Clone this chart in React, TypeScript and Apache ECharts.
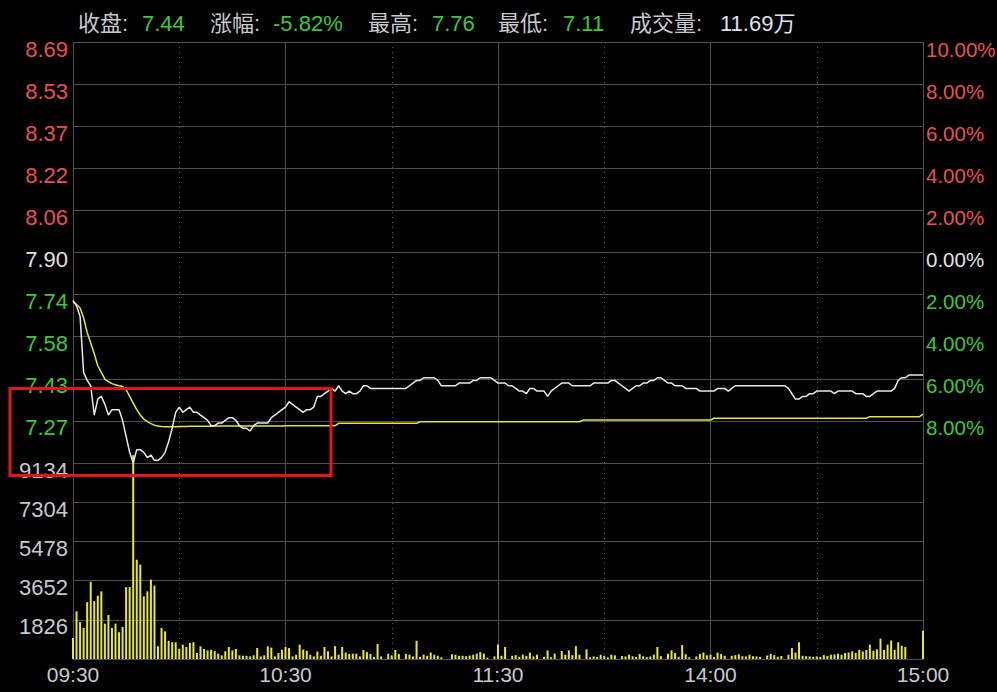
import React, { useEffect, useRef } from 'react';
import * as echarts from 'echarts';

// ---------- data ----------
const PRE_CLOSE = 7.9;
const PRICE_MIN = 7.11;
const PRICE_MAX = 8.69;
const PRICE_STEP = 0.158;
const PCT_MIN = -10;
const PCT_MAX = 10;
const PCT_STEP = 2;
const VOL_MAX = 9134;
const VOL_LABELS = ['', '1826', '3652', '5478', '7304', '9134'];
const X_LABELS = ['09:30', '10:30', '11:30', '14:00', '15:00'];
const SOLID_LINES = ['09:30', '10:30', '11:30', '14:00', '15:00'];
const DOTTED_LINES = ['10:00', '11:00', '13:30', '14:30'];

const HEADER_LABELS = ['收盘:', '涨幅:', '最高:', '最低:', '成交量:'];
const HEADER_VALUES = ['7.44', '-5.82%', '7.76', '7.11', '11.69万'];

const PRICE = [
  7.72, 7.70, 7.66, 7.45, 7.42, 7.40, 7.29, 7.35, 7.36, 7.33,
  7.29, 7.31, 7.31, 7.31, 7.27, 7.21, 7.15, 7.11, 7.16, 7.16,
  7.15, 7.13, 7.14, 7.12, 7.12, 7.13, 7.15, 7.19, 7.24, 7.30,
  7.32, 7.30, 7.31, 7.32, 7.30, 7.30, 7.29, 7.28, 7.27, 7.25,
  7.25, 7.26, 7.26, 7.27, 7.28, 7.28, 7.27, 7.25, 7.24, 7.24,
  7.23, 7.25, 7.26, 7.26, 7.26, 7.26, 7.28, 7.29, 7.30, 7.31,
  7.32, 7.34, 7.33, 7.32, 7.31, 7.30, 7.31, 7.31, 7.32, 7.36,
  7.36, 7.37, 7.38, 7.39, 7.38, 7.40, 7.38, 7.37, 7.38, 7.37,
  7.37, 7.38, 7.40, 7.40, 7.39, 7.39, 7.39, 7.39, 7.39, 7.39,
  7.39, 7.39, 7.39, 7.39, 7.39, 7.40, 7.41, 7.42, 7.42, 7.43,
  7.43, 7.43, 7.43, 7.42, 7.40, 7.40, 7.40, 7.40, 7.40, 7.41,
  7.41, 7.41, 7.41, 7.42, 7.42, 7.43, 7.43, 7.43, 7.43, 7.42,
  7.41, 7.41, 7.41, 7.40, 7.40, 7.39, 7.38, 7.38, 7.37, 7.39,
  7.39, 7.38, 7.38, 7.38, 7.36, 7.38, 7.39, 7.40, 7.41, 7.41,
  7.41, 7.40, 7.40, 7.40, 7.40, 7.40, 7.40, 7.41, 7.41, 7.41,
  7.41, 7.41, 7.42, 7.42, 7.41, 7.40, 7.39, 7.38, 7.39, 7.40,
  7.40, 7.41, 7.41, 7.42, 7.42, 7.43, 7.43, 7.42, 7.41, 7.41,
  7.40, 7.40, 7.40, 7.39, 7.39, 7.39, 7.39, 7.38, 7.38, 7.38,
  7.38, 7.38, 7.39, 7.39, 7.39, 7.38, 7.39, 7.40, 7.40, 7.40,
  7.40, 7.40, 7.40, 7.40, 7.40, 7.40, 7.40, 7.40, 7.40, 7.40,
  7.40, 7.40, 7.39, 7.37, 7.35, 7.35, 7.36, 7.36, 7.37, 7.37,
  7.38, 7.38, 7.38, 7.38, 7.38, 7.37, 7.38, 7.38, 7.38, 7.38,
  7.38, 7.37, 7.37, 7.37, 7.36, 7.36, 7.37, 7.38, 7.38, 7.38,
  7.38, 7.38, 7.39, 7.42, 7.43, 7.43, 7.44, 7.44, 7.44, 7.44, 7.44,
];

const AVG_PRICE = [
  7.715, 7.705, 7.692, 7.655, 7.600, 7.560, 7.520, 7.475, 7.450, 7.425,
  7.415, 7.408, 7.404, 7.400, 7.397, 7.385, 7.360, 7.335, 7.310, 7.290,
  7.275, 7.265, 7.258, 7.252, 7.249, 7.247, 7.246, 7.246, 7.246, 7.246,
  7.247, 7.247, 7.247, 7.248, 7.248, 7.248, 7.248, 7.248, 7.248, 7.248,
  7.249, 7.249, 7.249, 7.249, 7.249, 7.249, 7.249, 7.249, 7.249, 7.249,
  7.249, 7.249, 7.249, 7.249, 7.249, 7.249, 7.249, 7.249, 7.249, 7.249,
  7.250, 7.250, 7.250, 7.250, 7.250, 7.250, 7.250, 7.250, 7.250, 7.250,
  7.250, 7.250, 7.250, 7.250, 7.250, 7.259, 7.259, 7.259, 7.259, 7.259,
  7.259, 7.259, 7.259, 7.259, 7.259, 7.259, 7.259, 7.259, 7.259, 7.259,
  7.259, 7.259, 7.259, 7.259, 7.259, 7.259, 7.259, 7.259, 7.265, 7.265,
  7.265, 7.265, 7.265, 7.265, 7.265, 7.265, 7.265, 7.265, 7.265, 7.265,
  7.265, 7.265, 7.265, 7.265, 7.265, 7.265, 7.265, 7.265, 7.265, 7.265,
  7.265, 7.265, 7.265, 7.265, 7.265, 7.265, 7.265, 7.265, 7.265, 7.265,
  7.265, 7.265, 7.265, 7.265, 7.265, 7.265, 7.265, 7.265, 7.265, 7.265,
  7.265, 7.265, 7.265, 7.265, 7.271, 7.271, 7.271, 7.271, 7.271, 7.271,
  7.271, 7.271, 7.271, 7.271, 7.271, 7.271, 7.271, 7.271, 7.271, 7.271,
  7.271, 7.271, 7.271, 7.271, 7.271, 7.271, 7.271, 7.271, 7.271, 7.271,
  7.271, 7.271, 7.271, 7.271, 7.271, 7.271, 7.271, 7.271, 7.271, 7.271,
  7.271, 7.278, 7.278, 7.278, 7.278, 7.278, 7.278, 7.278, 7.278, 7.278,
  7.278, 7.278, 7.278, 7.278, 7.278, 7.278, 7.278, 7.278, 7.278, 7.278,
  7.278, 7.278, 7.278, 7.278, 7.278, 7.278, 7.278, 7.278, 7.278, 7.278,
  7.278, 7.278, 7.278, 7.278, 7.278, 7.278, 7.278, 7.278, 7.278, 7.278,
  7.278, 7.278, 7.278, 7.278, 7.278, 7.284, 7.284, 7.284, 7.284, 7.284,
  7.284, 7.284, 7.284, 7.284, 7.284, 7.284, 7.284, 7.284, 7.284, 7.284, 7.293,
];

const VOLUME = [
  980, 2220, 1720, 1450, 2650, 3600, 2700, 2950, 3150, 1650,
  2050, 1450, 1650, 1250, 1500, 3350, 3350, 9500, 4630, 4400,
  2920, 3150, 3700, 3420, 590, 1450, 1290, 850, 780, 780,
  470, 670, 560, 750, 780, 280, 590, 470, 400, 430,
  370, 250, 170, 360, 560, 400, 470, 170, 150, 150,
  120, 170, 510, 120, 170, 590, 530, 120, 280, 430,
  560, 510, 120, 200, 670, 440, 380, 200, 120, 350,
  150, 560, 360, 120, 600, 200, 560, 300, 230, 250,
  250, 120, 420, 320, 230, 100, 700, 120, 0, 240,
  170, 420, 230, 0, 240, 200, 120, 850, 100, 200,
  150, 300, 200, 150, 80, 0, 0, 220, 200, 150,
  150, 130, 160, 200, 250, 320, 250, 60, 0, 120,
  680, 150, 560, 0, 150, 180, 100, 200, 150, 300,
  120, 200, 0, 100, 400, 80, 250, 0, 370, 200,
  400, 180, 600, 200, 0, 450, 80, 120, 90, 200,
  150, 80, 200, 170, 0, 140, 120, 200, 130, 100,
  230, 130, 90, 120, 200, 560, 130, 0, 250, 400,
  280, 100, 650, 220, 80, 0, 120, 240, 300, 170,
  200, 90, 300, 230, 150, 0, 150, 180, 220, 130,
  120, 200, 130, 120, 100, 0, 160, 240, 180, 100,
  140, 0, 200, 510, 300, 780, 150, 130, 120, 100,
  120, 90, 180, 150, 200, 210, 250, 200, 280, 300,
  360, 280, 430, 350, 420, 670, 380, 450, 950, 420,
  670, 860, 430, 780, 620, 560, 0, 0, 0, 0, 1320,
];

// trading minutes: 09:30-11:30, 13:01-15:00
function buildTimes(): string[] {
  const fmt = (m: number) =>
    `${String(Math.floor(m / 60)).padStart(2, '0')}:${String(m % 60).padStart(2, '0')}`;
  const out: string[] = [];
  for (let m = 9 * 60 + 30; m <= 11 * 60 + 30; m++) out.push(fmt(m));
  for (let m = 13 * 60 + 1; m <= 15 * 60; m++) out.push(fmt(m));
  return out;
}
const TIMES = buildTimes();

// ---------- styles ----------
const FONT = '"Liberation Sans", Arial, "Noto Sans CJK SC", sans-serif';
const C_RED = '#e85252';
const C_GREEN = '#3cc83c';
const C_WHITE = '#e2e2e2';
const C_GRAY_TXT = '#c9c9cf';
const C_GRID = '#505050';
const C_PRICE = '#e8e8e8';
const C_AVG = '#e6e62c';
const C_VOL = '#e9e92b';

const makeRich = (fs: number) => ({
  r: { color: C_RED, fontSize: fs, fontFamily: FONT },
  w: { color: C_WHITE, fontSize: fs, fontFamily: FONT },
  g: { color: C_GREEN, fontSize: fs, fontFamily: FONT },
  v: { color: C_GRAY_TXT, fontSize: fs, fontFamily: FONT },
});
const richLeft = makeRich(22);
const richRight = makeRich(20.5);

export default function App() {
  const ref = useRef<HTMLDivElement>(null);

  useEffect(() => {
    if (!ref.current) return;
    const chart = echarts.init(ref.current, undefined, { renderer: 'svg' });

    const headerX = [[78, 142], [210, 273], [368, 432], [498, 563], [630, 720]];
    const headerGraphics: any[] = [];
    HEADER_LABELS.forEach((lab, i) => {
      headerGraphics.push({
        type: 'text',
        x: headerX[i][0],
        y: 23,
        style: { text: lab, fill: C_GRAY_TXT, font: `22px ${FONT}`, verticalAlign: 'middle' },
      });
      headerGraphics.push({
        type: 'text',
        x: headerX[i][1],
        y: 23,
        style: {
          text: HEADER_VALUES[i],
          fill: i === 4 ? '#dfe3ef' : C_GREEN,
          font: `22px ${FONT}`,
          verticalAlign: 'middle',
        },
      });
    });

    const hiddenX = {
      type: 'category',
      data: TIMES,
      boundaryGap: false,
      axisLine: { show: false },
      axisTick: { show: false },
      axisLabel: { show: false },
    };

    const option: any = {
      animation: false,
      backgroundColor: '#000000',
      grid: [
        { left: 73, right: 74, top: 42, height: 421, outerBoundsMode: 'none', containLabel: false },
        { left: 73, right: 74, top: 463, height: 196, outerBoundsMode: 'none', containLabel: false },
      ],
      xAxis: [
        {
          ...hiddenX,
          gridIndex: 0,
          splitLine: {
            show: true,
            interval: (_i: number, v: string) => SOLID_LINES.includes(v),
            lineStyle: { color: C_GRID, width: 1 },
          },
        },
        {
          type: 'category',
          gridIndex: 1,
          data: TIMES,
          boundaryGap: false,
          axisLine: { show: true, lineStyle: { color: C_GRID, width: 1 } },
          axisTick: { show: false },
          axisLabel: {
            show: true,
            interval: (_i: number, v: string) => X_LABELS.includes(v),
            color: C_GRAY_TXT,
            fontSize: 21,
            fontFamily: FONT,
            margin: 5,
          },
          splitLine: {
            show: true,
            interval: (_i: number, v: string) => SOLID_LINES.includes(v),
            lineStyle: { color: C_GRID, width: 1 },
          },
        },
        {
          ...hiddenX,
          gridIndex: 0,
          splitLine: {
            show: true,
            interval: (_i: number, v: string) => DOTTED_LINES.includes(v),
            lineStyle: { color: '#5a5a5a', width: 1, type: [1, 4] },
          },
        },
        {
          ...hiddenX,
          gridIndex: 1,
          splitLine: {
            show: true,
            interval: (_i: number, v: string) => DOTTED_LINES.includes(v),
            lineStyle: { color: '#5a5a5a', width: 1, type: [1, 4] },
          },
        },
      ],
      yAxis: [
        {
          type: 'value',
          gridIndex: 0,
          position: 'left',
          min: PRICE_MIN,
          max: PRICE_MAX,
          interval: PRICE_STEP,
          axisLine: { show: false },
          axisTick: { show: false },
          splitLine: { show: true, lineStyle: { color: C_GRID, width: 1 } },
          axisLabel: {
            margin: 5,
            padding: [14, 0, 0, 0],
            formatter: (v: number) => {
              if (Math.abs(v - PRICE_MIN) < 1e-6) return '';
              const s = v.toFixed(2);
              if (Math.abs(v - PRE_CLOSE) < 1e-3) return `{w|${s}}`;
              return v > PRE_CLOSE ? `{r|${s}}` : `{g|${s}}`;
            },
            rich: richLeft,
          },
        },
        {
          type: 'value',
          gridIndex: 0,
          position: 'right',
          min: PCT_MIN,
          max: PCT_MAX,
          interval: PCT_STEP,
          axisLine: { show: false },
          axisTick: { show: false },
          splitLine: { show: false },
          axisLabel: {
            margin: 3,
            padding: [14, 0, 0, 0],
            formatter: (v: number) => {
              if (Math.abs(v - PCT_MIN) < 1e-6) return '';
              const s = Math.abs(v).toFixed(2) + '%';
              if (Math.abs(v) < 1e-6) return `{w|${s}}`;
              return v > 0 ? `{r|${s}}` : `{g|${s}}`;
            },
            rich: richRight,
          },
        },
        {
          type: 'value',
          gridIndex: 1,
          position: 'left',
          min: 0,
          max: VOL_MAX,
          interval: VOL_MAX / 5,
          axisLine: { show: false },
          axisTick: { show: false },
          splitLine: { show: true, lineStyle: { color: C_GRID, width: 1 } },
          axisLabel: {
            margin: 5,
            padding: [14, 0, 0, 0],
            formatter: (v: number) => {
              const k = Math.round(v / (VOL_MAX / 5));
              const s = VOL_LABELS[k] || '';
              return s ? `{v|${s}}` : '';
            },
            rich: richLeft,
          },
        },
      ],
      series: [
        {
          name: 'volume',
          type: 'bar',
          xAxisIndex: 1,
          yAxisIndex: 2,
          data: VOLUME,
          barWidth: 2,
          clip: false,
          itemStyle: { color: C_VOL },
          z: 2,
        },
        {
          name: 'avg',
          type: 'line',
          xAxisIndex: 0,
          yAxisIndex: 0,
          data: AVG_PRICE,
          showSymbol: false,
          lineStyle: { color: C_AVG, width: 1.5 },
          z: 3,
        },
        {
          name: 'price',
          type: 'line',
          xAxisIndex: 0,
          yAxisIndex: 0,
          data: PRICE,
          showSymbol: false,
          lineStyle: { color: C_PRICE, width: 1.5 },
          z: 4,
        },
      ],
      graphic: [
        ...headerGraphics,
        {
          type: 'rect',
          z: 100,
          shape: { x: 10, y: 388.5, width: 321, height: 87 },
          style: { fill: 'none', stroke: '#e3161c', lineWidth: 3 },
        },
      ],
    };

    chart.setOption(option);
    return () => chart.dispose();
  }, []);

  return (
    <div
      ref={ref}
      style={{ position: 'fixed', left: 0, top: 0, width: 997, height: 692, background: '#000' }}
    />
  );
}
